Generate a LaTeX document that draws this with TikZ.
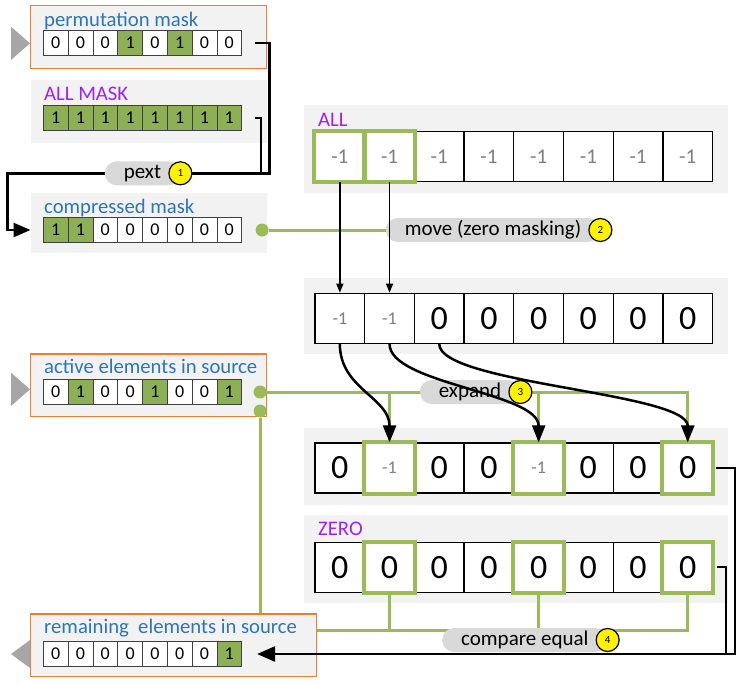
\documentclass[tikz,border=0pt]{standalone}
\usepackage{fontspec}
\setmainfont{Carlito}
\usetikzlibrary{arrows.meta}
\definecolor{panelgray}{HTML}{F2F2F2}
\definecolor{boxorange}{HTML}{ED7D31}
\definecolor{titleblue}{HTML}{2E75B6}
\definecolor{constpurple}{HTML}{A020F0}
\definecolor{mgreen}{HTML}{8DB056}
\definecolor{lgreen}{HTML}{9BBB59}
\definecolor{numgray}{HTML}{7F7F7F}
\definecolor{pillgray}{HTML}{D9D9D9}
\definecolor{trigray}{HTML}{A6A6A6}
\colorlet{cf0}{white}
\colorlet{cf1}{mgreen}
\def\mone{{\fontsize{18}{18}\selectfont\color{numgray}-1}}
\def\zr{{\fontsize{34}{34}\selectfont 0}}
\def\smallrow#1#2#3{\foreach \v [count=\i] in {#3}
  \node[scell, fill=cf\v] (#1\i) at (30.9+24.8*\i, #2) {\v};}
\def\bigrow#1#2#3#4{\foreach \v [count=\i] in {#4}
  \node[bcell, #3] (#1\i) at (290.15+49.7*\i, #2) {\v};}
\tikzset{
  panel/.style={fill=panelgray, inner sep=0pt},
  maskbox/.style={panel, draw=boxorange, line width=1.5pt},
  title/.style={anchor=base west, inner sep=0pt, text=titleblue,
    font=\fontsize{20.7}{20.7}\selectfont},
  consttitle/.style={title, text=constpurple},
  scell/.style={draw=black!75, line width=0.8pt, minimum width=24.8pt,
    minimum height=24.5pt, inner sep=0pt, font=\fontsize{18}{18}\selectfont},
  bcell/.style={draw=black, line width=1.3pt, fill=white, minimum width=49.7pt,
    minimum height=50pt, inner sep=0pt},
  allnum/.style={text=numgray, font=\fontsize{21}{21}\selectfont},
  hilite/.style={draw=lgreen, line width=4pt},
  blk/.style={black, line width=2.5pt},
  thinarrow/.style={black, line width=1.3pt, -{Triangle[length=9pt,width=7pt]}},
  curvearrow/.style={black, line width=2.5pt, -{Triangle[length=17pt,width=13pt]}},
  gline/.style={lgreen, line width=3pt},
  gdot/.style={circle, fill=lgreen, minimum size=13pt, inner sep=0pt},
  pill/.style={fill=pillgray, rounded corners=12pt, minimum height=24pt,
    inner xsep=19pt, inner ysep=0pt, font=\fontsize{21}{21}\selectfont},
  stepnum/.style={circle, fill=yellow, draw=black, line width=1.2pt,
    minimum size=23pt, inner sep=0pt, font=\fontsize{11}{11}\selectfont}
}

\begin{document}
\begin{tikzpicture}[x=1pt, y=-1pt]
  \useasboundingbox (0,0) rectangle (743,683);
  % panels
  \node[maskbox, minimum width=236pt, minimum height=62.6pt] (permbox) at (148.7,37) {};
  \node[panel, minimum width=236pt, minimum height=62.7pt] (allmaskbox) at (148.7,111.3) {};
  \node[panel, minimum width=236pt, minimum height=60.6pt] (compbox) at (148.7,223) {};
  \node[maskbox, minimum width=236pt, minimum height=62.7pt] (actbox) at (148.7,385.3) {};
  \node[maskbox, minimum width=286pt, minimum height=62.7pt] (rembox) at (173.7,645.3) {};
  \node[panel, minimum width=424.3pt, minimum height=88.3pt] (allbox) at (516.2,149.2) {};
  \node[panel, minimum width=424.3pt, minimum height=76pt] (exbox) at (516.2,316.3) {};
  \node[panel, minimum width=424.3pt, minimum height=76.7pt] (resbox) at (516.2,466.7) {};
  \node[panel, minimum width=424.3pt, minimum height=88.3pt] (zerobox) at (516.2,559.2) {};
  % input / output marks
  \fill[trigray] (11,26.7) -- (30,43.3) -- (11,60) -- cycle;
  \fill[trigray] (11,372.7) -- (30,389.3) -- (11,406) -- cycle;
  \fill[trigray] (30,640) -- (11,654) -- (30,668) -- cycle;
  % titles
  \node[title] (permttl) at (44,26) {permutation mask};
  \node[consttitle] (allmaskttl) at (44,100.7) {ALL MASK};
  \node[title] (compttl) at (44,213.3) {compressed mask};
  \node[title] (actttl) at (44,373.3) {active elements in source};
  \node[title] (remttl) at (44,633.3) {remaining\ \ elements in source};
  \node[consttitle] (allttl) at (318,126) {ALL};
  \node[consttitle] (zerottl) at (318,535) {ZERO};
  % masks
  \smallrow{pm}{43}{0,0,0,1,0,1,0,0}
  \smallrow{am}{118}{1,1,1,1,1,1,1,1}
  \smallrow{cm}{230}{1,1,0,0,0,0,0,0}
  \smallrow{act}{392}{0,1,0,0,1,0,0,1}
  \smallrow{rem}{654}{0,0,0,0,0,0,0,1}
  % vectors
  \bigrow{all}{156.7}{allnum}{-1,-1,-1,-1,-1,-1,-1,-1}
  \bigrow{ex}{318.3}{}{\mone,\mone,\zr,\zr,\zr,\zr,\zr,\zr}
  \bigrow{res}{468}{}{\zr,\mone,\zr,\zr,\mone,\zr,\zr,\zr}
  \bigrow{z}{567.2}{}{\zr,\zr,\zr,\zr,\zr,\zr,\zr,\zr}
  \foreach \c in {all1,all2,res2,res5,res8,z2,z5,z8}
    \draw[hilite] (\c.north west) rectangle (\c.south east);
  % 1: pext
  \draw[blk] ([xshift=13pt]am8.east) -| (261,173.3);
  \draw[blk, -{Triangle[length=17pt,width=14pt]}] ([xshift=13pt]pm8.east) -| (269.3,173.3)
    -| (7.3,230) -- (compbox.west |- cm1);
  \node[pill] (pextlbl) at (142.5,173.3) {pext};
  \node[stepnum] (step1) at (pextlbl.east) {1};
  % 2: move (zero masking)
  \node[gdot] (cmdot) at ([xshift=20pt]cm8.east) {};
  \node[pill] (movelbl) at (493,230) {move (zero masking)};
  \draw[gline] (cmdot) -- (movelbl.west);
  \node[stepnum] (step2) at (movelbl.east) {2};
  \draw[thinarrow] (all1.south) -- (ex1.north);
  \draw[thinarrow] (all2.south) -- (ex2.north);
  % 3: expand
  \node[gdot] (actdot1) at ([xshift=18pt]act8.east) {};
  \node[gdot] (actdot2) at ([shift={(18,19)}]act8.east) {};
  \draw[gline] (actdot1) -| (res8.north);
  \draw[gline] (res2.north) -- (res2.north |- actdot1);
  \draw[gline] (res5.north) -- (res5.north |- actdot1);
  \draw[gline] (actdot2) -- (actdot2 |- rembox.north);
  \node[pill] (exlbl) at (470,392) {expand};
  \draw[curvearrow] (ex1.south) .. controls +(0,45) and +(0,-45) .. (res2.north);
  \draw[curvearrow] (ex2.south) .. controls +(0,40) and +(0,-50) .. (res5.north);
  \draw[curvearrow] (ex3.south) .. controls +(0,40) and +(0,-50) .. (res8.north);
  \node[stepnum] (step3) at (exlbl.east) {3};
  % 4: compare equal
  \coordinate (cmpend) at (316.7,630);
  \draw[gline] (z8.south) |- (cmpend);
  \draw[gline] (z2.south) -- (z2.south |- cmpend);
  \draw[gline] (z5.south) -- (z5.south |- cmpend);
  \draw[blk] ([xshift=4pt]z8.east) -| (726,654);
  \draw[blk, -{Triangle[length=18pt,width=15pt]}] ([xshift=3pt]res8.east) -| (735,654)
    -- ([xshift=15pt]rem8.east);
  \node[pill] (cmplbl) at (524.8,640) {compare equal};
  \node[stepnum] (step4) at (cmplbl.east) {4};
\end{tikzpicture}
\end{document}
